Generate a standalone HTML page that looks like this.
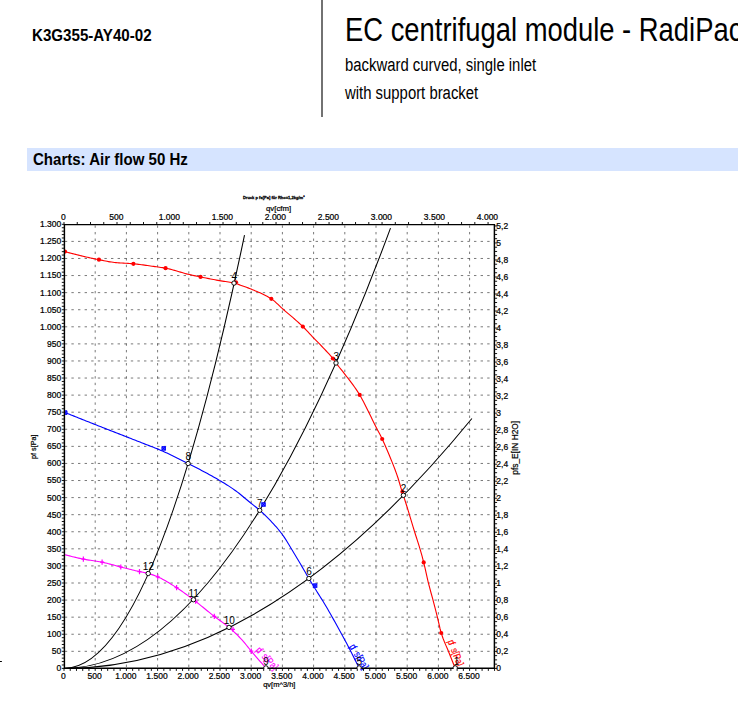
<!DOCTYPE html>
<html lang="en">
<head>
<meta charset="utf-8">
<title>K3G355-AY40-02 – Charts: Air flow 50 Hz</title>
<style>
html,body{margin:0;padding:0;background:#fff;}
body{width:738px;height:705px;position:relative;overflow:hidden;font-family:"Liberation Sans",sans-serif;color:#000;}
.n{position:absolute;white-space:nowrap;transform-origin:0 100%;line-height:1;}
#partno{left:31.5px;top:27.7px;font-size:16.6px;font-weight:bold;transform:scaleX(.911);}
#vline{position:absolute;left:321px;top:0;width:2px;height:117px;background:#727272;}
#title{left:345.1px;top:12.8px;font-size:33px;transform:scaleX(.83);}
#sub1{left:344.6px;top:57.3px;font-size:17.6px;transform:scaleX(.846);}
#sub2{left:344.9px;top:84.6px;font-size:17.6px;transform:scaleX(.846);}
#bar{position:absolute;left:27px;top:148px;width:711px;height:22.7px;background:#d6e4ff;}
#bar span{left:5.5px;top:3.9px;font-size:16.6px;font-weight:bold;transform:scaleX(.906);}
svg{position:absolute;left:0;top:0;}
svg text{font-family:"Liberation Sans",sans-serif;}
.grid line{stroke:#000;stroke-width:.72;stroke-dasharray:2.4 4.2;stroke-opacity:.74;}
.grid line.v{stroke-dasharray:2.4 4.155;}
.sys path{fill:none;stroke:#000;stroke-width:1.05;}
.fan{fill:none;stroke-width:1.12;}
.ax{fill:none;stroke:#000;stroke-width:1.45;}
.tk{fill:none;stroke:#000;stroke-width:.92;}
.pt circle{fill:#fff;stroke:#000;stroke-width:.95;}
.pl text{font-size:10px;text-anchor:middle;fill:#000;}
.lb{font-size:8.5px;fill:#000;stroke:#000;stroke-width:.22px;}
.le text{text-anchor:end;}
.ls text{text-anchor:start;}
.lm text,text.lm{text-anchor:middle;}
.cl{font-size:10.2px;stroke-width:.15px;}
.tt{font-size:4.4px;text-anchor:middle;fill:#000;font-weight:bold;stroke:#000;stroke-width:.28px;}
</style>
</head>
<body>
<div id="partno" class="n">K3G355-AY40-02</div>
<div id="vline"></div>
<div id="title" class="n">EC centrifugal module - RadiPac</div>
<div id="sub1" class="n">backward curved, single inlet</div>
<div id="sub2" class="n">with support bracket</div>
<div id="bar"><span class="n">Charts: Air flow 50 Hz</span></div>
<svg width="738" height="705" viewBox="0 0 738 705" role="img" aria-label="Air flow chart 50 Hz">
<g class="grid"><line class="v" x1="95.2" y1="667" x2="95.2" y2="224.6"/><line class="v" x1="126.4" y1="667" x2="126.4" y2="224.6"/><line class="v" x1="157.6" y1="667" x2="157.6" y2="224.6"/><line class="v" x1="188.8" y1="667" x2="188.8" y2="224.6"/><line class="v" x1="220" y1="667" x2="220" y2="224.6"/><line class="v" x1="251.2" y1="667" x2="251.2" y2="224.6"/><line class="v" x1="282.4" y1="667" x2="282.4" y2="224.6"/><line class="v" x1="313.6" y1="667" x2="313.6" y2="224.6"/><line class="v" x1="344.8" y1="667" x2="344.8" y2="224.6"/><line class="v" x1="376" y1="667" x2="376" y2="224.6"/><line class="v" x1="407.2" y1="667" x2="407.2" y2="224.6"/><line class="v" x1="438.4" y1="667" x2="438.4" y2="224.6"/><line class="v" x1="469.6" y1="667" x2="469.6" y2="224.6"/><line x1="64.8" y1="651.32" x2="494.4" y2="651.32"/><line x1="64.8" y1="634.24" x2="494.4" y2="634.24"/><line x1="64.8" y1="617.16" x2="494.4" y2="617.16"/><line x1="64.8" y1="600.08" x2="494.4" y2="600.08"/><line x1="64.8" y1="583" x2="494.4" y2="583"/><line x1="64.8" y1="565.92" x2="494.4" y2="565.92"/><line x1="64.8" y1="548.84" x2="494.4" y2="548.84"/><line x1="64.8" y1="531.76" x2="494.4" y2="531.76"/><line x1="64.8" y1="514.68" x2="494.4" y2="514.68"/><line x1="64.8" y1="497.6" x2="494.4" y2="497.6"/><line x1="64.8" y1="480.52" x2="494.4" y2="480.52"/><line x1="64.8" y1="463.44" x2="494.4" y2="463.44"/><line x1="64.8" y1="446.36" x2="494.4" y2="446.36"/><line x1="64.8" y1="429.28" x2="494.4" y2="429.28"/><line x1="64.8" y1="412.2" x2="494.4" y2="412.2"/><line x1="64.8" y1="395.12" x2="494.4" y2="395.12"/><line x1="64.8" y1="378.04" x2="494.4" y2="378.04"/><line x1="64.8" y1="360.96" x2="494.4" y2="360.96"/><line x1="64.8" y1="343.88" x2="494.4" y2="343.88"/><line x1="64.8" y1="326.8" x2="494.4" y2="326.8"/><line x1="64.8" y1="309.72" x2="494.4" y2="309.72"/><line x1="64.8" y1="292.64" x2="494.4" y2="292.64"/><line x1="64.8" y1="275.56" x2="494.4" y2="275.56"/><line x1="64.8" y1="258.48" x2="494.4" y2="258.48"/><line x1="64.8" y1="241.4" x2="494.4" y2="241.4"/></g>
<g class="sys"><path d="M64 668.4 Q154.25 668.4 244.5 235.08"/><path d="M64 668.4 Q227.25 668.4 390.5 228.13"/><path d="M64 668.4 Q267.95 668.4 471.9 418.49"/></g>
<clipPath id="pa"><rect x="64.4" y="224" width="430.5" height="445"/></clipPath><g clip-path="url(#pa)">
<path class="fan" stroke="#ff0000" d="M65 251.6L66.5 252.02L68 252.43L69.5 252.84L71 253.24L72.5 253.64L74 254.03L75.5 254.41L77 254.79L78.5 255.16L80 255.53L81.5 255.89L83 256.24L84.5 256.59L86 256.94L87.5 257.28L89 257.61L90.5 257.94L92 258.27L93.5 258.58L95 258.9L96.5 259.21L98 259.51L99.5 259.81L101 260.11L102.5 260.42L104 260.72L105.5 261.02L107 261.31L108.5 261.58L110 261.84L111.5 262.07L113 262.28L114.5 262.46L116 262.61L117.5 262.74L119 262.85L120.5 262.95L122 263.05L123.5 263.14L125 263.22L126.5 263.31L128 263.4L129.5 263.5L131 263.6L132.5 263.72L134 263.86L135.5 264.01L137 264.17L138.5 264.35L140 264.53L141.5 264.73L143 264.93L144.5 265.14L146 265.35L147.5 265.56L149 265.78L150.5 265.99L152 266.2L153.5 266.4L155 266.6L156.5 266.81L158 267.01L159.5 267.22L161 267.44L162.5 267.67L164 267.92L165.5 268.18L167 268.48L168.5 268.8L170 269.16L171.5 269.54L173 269.95L174.5 270.37L176 270.8L177.5 271.24L179 271.69L180.5 272.14L182 272.58L183.5 273.01L185 273.43L186.5 273.84L188 274.22L189.5 274.58L191 274.92L192.5 275.26L194 275.58L195.5 275.9L197 276.22L198.5 276.53L200 276.84L201.5 277.14L203 277.45L204.5 277.75L206 278.05L207.5 278.35L209 278.65L210.5 278.94L212 279.23L213.5 279.52L215 279.8L216.5 280.08L218 280.36L219.5 280.63L221 280.89L222.5 281.13L224 281.36L225.5 281.57L227 281.79L228.5 282.02L230 282.27L231.5 282.53L233 282.83L234.5 283.17L236 283.59L237.5 284.08L239 284.61L240.5 285.16L242 285.7L243.5 286.23L245 286.76L246.5 287.31L248 287.87L249.5 288.45L251 289.06L252.5 289.68L254 290.29L255.5 290.92L257 291.54L258.5 292.18L260 292.84L261.5 293.52L263 294.22L264.5 294.95L266 295.72L267.5 296.54L269 297.39L270.5 298.3L272 299.27L273.5 300.4L275 301.67L276.5 303.04L278 304.46L279.5 305.91L281 307.33L282.5 308.69L284 310L285.5 311.3L287 312.58L288.5 313.86L290 315.13L291.5 316.41L293 317.7L294.5 318.99L296 320.3L297.5 321.63L299 322.98L300.5 324.37L302 325.78L303.5 327.24L305 328.75L306.5 330.33L308 331.93L309.5 333.56L311 335.18L312.5 336.79L314 338.36L315.5 339.91L317 341.44L318.5 342.96L320 344.48L321.5 346.01L323 347.56L324.5 349.14L326 350.75L327.5 352.36L329 353.98L330.5 355.66L332 357.44L333.5 359.38L335 361.57L336.5 363.67L338 365.62L339.5 367.49L341 369.34L342.5 371.19L344 373.09L345.5 375.05L347 377.01L348.5 378.96L350 380.93L351.5 382.91L353 384.94L354.5 387.03L356 389.18L357.5 391.42L359 393.77L360.5 396.25L362 398.94L363.5 401.8L365 404.78L366.5 407.8L368 410.81L369.5 413.79L371 416.84L372.5 419.92L374 422.98L375.5 426L377 428.91L378.5 431.75L380 434.59L381.5 437.55L383 440.7L384.5 444L386 447.41L387.5 450.92L389 454.51L390.5 458.17L392 461.88L393.5 465.64L395 469.52L396.5 473.61L398 478.03L399.5 483L401 488.07L402.5 492.74L404 497.31L405.5 502.01L407 506.78L408.5 511.65L410 516.6L411.5 521.59L413 526.57L414.5 531.48L416 536.23L417.5 540.88L419 545.62L420.5 550.63L422 555.95L423.5 561.61L425 567.89L426.5 574.66L428 581.29L429.5 587.23L431 592.74L432.5 598.2L434 603.89L435.5 609.68L437 615.6L438.5 621.89L440 628.49L441.5 633.95L443 638.3L444.5 642.1L446 645.61L447.5 649.08L449 652.76L450.5 656.53L452 660.29L453.5 664.05L455 667.8"/>
<path class="fan" stroke="#0000ff" d="M65 412.5L66.5 413.1L68 413.71L69.5 414.31L71 414.92L72.5 415.52L74 416.12L75.5 416.72L77 417.32L78.5 417.92L80 418.52L81.5 419.12L83 419.72L84.5 420.32L86 420.91L87.5 421.51L89 422.1L90.5 422.7L92 423.29L93.5 423.89L95 424.48L96.5 425.07L98 425.67L99.5 426.26L101 426.84L102.5 427.43L104 428.02L105.5 428.61L107 429.19L108.5 429.78L110 430.36L111.5 430.95L113 431.53L114.5 432.12L116 432.7L117.5 433.29L119 433.87L120.5 434.46L122 435.04L123.5 435.63L125 436.21L126.5 436.8L128 437.39L129.5 437.97L131 438.56L132.5 439.15L134 439.74L135.5 440.33L137 440.92L138.5 441.51L140 442.09L141.5 442.68L143 443.27L144.5 443.86L146 444.44L147.5 445.03L149 445.61L150.5 446.19L152 446.76L153.5 447.33L155 447.9L156.5 448.49L158 449.11L159.5 449.75L161 450.4L162.5 451.06L164 451.73L165.5 452.42L167 453.11L168.5 453.81L170 454.52L171.5 455.24L173 455.96L174.5 456.69L176 457.43L177.5 458.17L179 458.92L180.5 459.67L182 460.42L183.5 461.18L185 461.93L186.5 462.69L188 463.45L189.5 464.21L191 464.97L192.5 465.73L194 466.5L195.5 467.27L197 468.04L198.5 468.81L200 469.59L201.5 470.38L203 471.17L204.5 471.97L206 472.77L207.5 473.58L209 474.4L210.5 475.23L212 476.06L213.5 476.9L215 477.75L216.5 478.61L218 479.48L219.5 480.36L221 481.25L222.5 482.15L224 483.07L225.5 483.99L227 484.93L228.5 485.89L230 486.86L231.5 487.86L233 488.88L234.5 489.93L236 491L237.5 492.12L239 493.29L240.5 494.51L242 495.75L243.5 497.01L245 498.28L246.5 499.55L248 500.79L249.5 502.01L251 503.2L252.5 504.39L254 505.58L255.5 506.78L257 508L258.5 509.26L260 510.57L261.5 511.91L263 513.28L264.5 514.69L266 516.13L267.5 517.6L269 519.12L270.5 520.67L272 522.26L273.5 523.88L275 525.54L276.5 527.24L278 529.01L279.5 530.83L281 532.74L282.5 534.74L284 536.88L285.5 539.17L287 541.57L288.5 544.05L290 546.55L291.5 549.05L293 551.51L294.5 553.99L296 556.48L297.5 559L299 561.53L300.5 564.08L302 566.63L303.5 569.2L305 571.82L306.5 574.45L308 577.05L309.5 579.59L311 582.07L312.5 584.51L314 586.93L315.5 589.32L317 591.7L318.5 594.08L320 596.47L321.5 598.87L323 601.3L324.5 603.77L326 606.28L327.5 608.84L329 611.44L330.5 614.07L332 616.72L333.5 619.39L335 622.08L336.5 624.78L338 627.49L339.5 630.21L341 632.95L342.5 635.7L344 638.48L345.5 641.28L347 644.1L348.5 646.96L350 649.84L351.5 652.75L353 655.69L354.5 658.65L356 661.64L357.5 664.66L359 667.7L359.1 667.9"/>
<path class="fan" stroke="#ff00ff" d="M65 554.7L66.5 555.11L68 555.51L69.5 555.91L71 556.3L72.5 556.67L74 557.04L75.5 557.4L77 557.75L78.5 558.09L80 558.41L81.5 558.73L83 559.03L84.5 559.32L86 559.59L87.5 559.84L89 560.08L90.5 560.31L92 560.53L93.5 560.75L95 560.98L96.5 561.21L98 561.45L99.5 561.71L101 561.99L102.5 562.28L104 562.6L105.5 562.95L107 563.31L108.5 563.7L110 564.09L111.5 564.5L113 564.91L114.5 565.32L116 565.73L117.5 566.14L119 566.54L120.5 566.92L122 567.3L123.5 567.68L125 568.06L126.5 568.44L128 568.82L129.5 569.2L131 569.57L132.5 569.94L134 570.31L135.5 570.67L137 571.03L138.5 571.37L140 571.71L141.5 572.02L143 572.31L144.5 572.6L146 572.91L147.5 573.26L149 573.66L150.5 574.1L152 574.6L153.5 575.14L155 575.71L156.5 576.32L158 576.96L159.5 577.64L161 578.37L162.5 579.14L164 579.96L165.5 580.8L167 581.68L168.5 582.59L170 583.51L171.5 584.45L173 585.4L174.5 586.36L176 587.32L177.5 588.28L179 589.27L180.5 590.28L182 591.31L183.5 592.37L185 593.44L186.5 594.53L188 595.63L189.5 596.74L191 597.86L192.5 598.99L194 600.12L195.5 601.27L197 602.44L198.5 603.63L200 604.84L201.5 606.06L203 607.28L204.5 608.51L206 609.74L207.5 610.97L209 612.19L210.5 613.4L212 614.6L213.5 615.78L215 616.94L216.5 618.06L218 619.15L219.5 620.23L221 621.3L222.5 622.38L224 623.48L225.5 624.6L227 625.77L228.5 626.98L230 628.25L231.5 629.57L233 630.92L234.5 632.31L236 633.75L237.5 635.22L239 636.74L240.5 638.3L242 639.9L243.5 641.59L245 643.38L246.5 645.24L248 647.14L249.5 649.01L251 650.84L252.5 652.61L254 654.37L255.5 656.12L257 657.86L258.5 659.58L260 661.3L261.5 662.99L263 664.68L264.5 666.35L265.9 667.9"/>
<g fill="#ff0000"><circle cx="65" cy="251.6" r="2.1"/><circle cx="98.95" cy="259.7" r="2.1"/><circle cx="133.4" cy="263.8" r="2.1"/><circle cx="165.6" cy="268.2" r="2.1"/><circle cx="200.55" cy="276.95" r="2.1"/><circle cx="236" cy="282.3" r="2.1"/><circle cx="271.3" cy="298.8" r="2.1"/><circle cx="302.8" cy="326.55" r="2.1"/><circle cx="332.85" cy="358.5" r="2.1"/><circle cx="359.7" cy="394.9" r="2.1"/><circle cx="382.2" cy="439" r="2.1"/><circle cx="402.4" cy="491.8" r="2.1"/><circle cx="423.7" cy="562.4" r="2.1"/><circle cx="441.2" cy="633" r="2.1"/></g>
<g fill="#4848ff" stroke="#0000ff" stroke-width=".9"><path d="M63.4 410.8h3.6v3.6h-3.6zl3.6 3.6m0 -3.6l-3.6 3.6"/><path d="M161.9 446.6h3.6v3.6h-3.6zl3.6 3.6m0 -3.6l-3.6 3.6"/><path d="M261.7 502.7h3.6v3.6h-3.6zl3.6 3.6m0 -3.6l-3.6 3.6"/><path d="M313.3 583.8h3.6v3.6h-3.6zl3.6 3.6m0 -3.6l-3.6 3.6"/></g>
<path stroke="#ff00ff" stroke-width="1.2" fill="none" d="M83.35 556.5v5.2M81.35 559.1h4M102.1 559.6v5.2M100.1 562.2h4M120.8 564.4v5.2M118.8 567h4M139.5 569v5.2M137.5 571.6h4M157.75 574.25v5.2M155.75 576.85h4M176.6 585.1v5.2M174.6 587.7h4M195.6 598.6v5.2M193.6 601.2h4M214.3 613.8v5.2M212.3 616.4h4M233 626.7v5.2M231 629.3h4M251.3 648.6v5.2M249.3 651.2h4"/>
</g>
<text class="cl" fill="#ff0000" stroke="#ff0000" transform="translate(447.6 641.2) rotate(69) scale(.8 1)">p<tspan dx="-2.4">f</tspan><tspan dx="2.2"> s[Pa]</tspan></text>
<text class="cl" fill="#0000ff" stroke="#0000ff" transform="translate(349 646.6) rotate(59) scale(.8 1)">p<tspan dx="-2.4">f</tspan><tspan dx="2.2"> s[Pa]</tspan></text>
<text class="cl" fill="#ff00ff" stroke="#ff00ff" transform="translate(255.2 650.6) rotate(47) scale(.8 1)">p<tspan dx="-2.4">f</tspan><tspan dx="2.2"> s[Pa]</tspan></text>
<path class="ax" d="M64.4 224.6H494.4V668.3H64.4Z"/>
<path class="tk" d="M64.4 668.4h-2.6M64.4 664.98h-2.6M64.4 661.57h-2.6M64.4 658.15h-2.6M64.4 654.74h-2.6M64.4 651.32h-2.6M64.4 647.9h-2.6M64.4 644.49h-2.6M64.4 641.07h-2.6M64.4 637.66h-2.6M64.4 634.24h-2.6M64.4 630.82h-2.6M64.4 627.41h-2.6M64.4 623.99h-2.6M64.4 620.58h-2.6M64.4 617.16h-2.6M64.4 613.74h-2.6M64.4 610.33h-2.6M64.4 606.91h-2.6M64.4 603.5h-2.6M64.4 600.08h-2.6M64.4 596.66h-2.6M64.4 593.25h-2.6M64.4 589.83h-2.6M64.4 586.42h-2.6M64.4 583h-2.6M64.4 579.58h-2.6M64.4 576.17h-2.6M64.4 572.75h-2.6M64.4 569.34h-2.6M64.4 565.92h-2.6M64.4 562.5h-2.6M64.4 559.09h-2.6M64.4 555.67h-2.6M64.4 552.26h-2.6M64.4 548.84h-2.6M64.4 545.42h-2.6M64.4 542.01h-2.6M64.4 538.59h-2.6M64.4 535.18h-2.6M64.4 531.76h-2.6M64.4 528.34h-2.6M64.4 524.93h-2.6M64.4 521.51h-2.6M64.4 518.1h-2.6M64.4 514.68h-2.6M64.4 511.26h-2.6M64.4 507.85h-2.6M64.4 504.43h-2.6M64.4 501.02h-2.6M64.4 497.6h-2.6M64.4 494.18h-2.6M64.4 490.77h-2.6M64.4 487.35h-2.6M64.4 483.94h-2.6M64.4 480.52h-2.6M64.4 477.1h-2.6M64.4 473.69h-2.6M64.4 470.27h-2.6M64.4 466.86h-2.6M64.4 463.44h-2.6M64.4 460.02h-2.6M64.4 456.61h-2.6M64.4 453.19h-2.6M64.4 449.78h-2.6M64.4 446.36h-2.6M64.4 442.94h-2.6M64.4 439.53h-2.6M64.4 436.11h-2.6M64.4 432.7h-2.6M64.4 429.28h-2.6M64.4 425.86h-2.6M64.4 422.45h-2.6M64.4 419.03h-2.6M64.4 415.62h-2.6M64.4 412.2h-2.6M64.4 408.78h-2.6M64.4 405.37h-2.6M64.4 401.95h-2.6M64.4 398.54h-2.6M64.4 395.12h-2.6M64.4 391.7h-2.6M64.4 388.29h-2.6M64.4 384.87h-2.6M64.4 381.46h-2.6M64.4 378.04h-2.6M64.4 374.62h-2.6M64.4 371.21h-2.6M64.4 367.79h-2.6M64.4 364.38h-2.6M64.4 360.96h-2.6M64.4 357.54h-2.6M64.4 354.13h-2.6M64.4 350.71h-2.6M64.4 347.3h-2.6M64.4 343.88h-2.6M64.4 340.46h-2.6M64.4 337.05h-2.6M64.4 333.63h-2.6M64.4 330.22h-2.6M64.4 326.8h-2.6M64.4 323.38h-2.6M64.4 319.97h-2.6M64.4 316.55h-2.6M64.4 313.14h-2.6M64.4 309.72h-2.6M64.4 306.3h-2.6M64.4 302.89h-2.6M64.4 299.47h-2.6M64.4 296.06h-2.6M64.4 292.64h-2.6M64.4 289.22h-2.6M64.4 285.81h-2.6M64.4 282.39h-2.6M64.4 278.98h-2.6M64.4 275.56h-2.6M64.4 272.14h-2.6M64.4 268.73h-2.6M64.4 265.31h-2.6M64.4 261.9h-2.6M64.4 258.48h-2.6M64.4 255.06h-2.6M64.4 251.65h-2.6M64.4 248.23h-2.6M64.4 244.82h-2.6M64.4 241.4h-2.6M64.4 237.98h-2.6M64.4 234.57h-2.6M64.4 231.15h-2.6M64.4 227.74h-2.6M64.4 224.32h-2.6M494.4 668.4h2.7M494.4 664.15h2.7M494.4 659.89h2.7M494.4 655.64h2.7M494.4 651.38h2.7M494.4 647.13h2.7M494.4 642.87h2.7M494.4 638.62h2.7M494.4 634.36h2.7M494.4 630.11h2.7M494.4 625.86h2.7M494.4 621.6h2.7M494.4 617.35h2.7M494.4 613.09h2.7M494.4 608.84h2.7M494.4 604.58h2.7M494.4 600.33h2.7M494.4 596.07h2.7M494.4 591.82h2.7M494.4 587.57h2.7M494.4 583.31h2.7M494.4 579.06h2.7M494.4 574.8h2.7M494.4 570.55h2.7M494.4 566.29h2.7M494.4 562.04h2.7M494.4 557.78h2.7M494.4 553.53h2.7M494.4 549.28h2.7M494.4 545.02h2.7M494.4 540.77h2.7M494.4 536.51h2.7M494.4 532.26h2.7M494.4 528h2.7M494.4 523.75h2.7M494.4 519.49h2.7M494.4 515.24h2.7M494.4 510.99h2.7M494.4 506.73h2.7M494.4 502.48h2.7M494.4 498.22h2.7M494.4 493.97h2.7M494.4 489.71h2.7M494.4 485.46h2.7M494.4 481.2h2.7M494.4 476.95h2.7M494.4 472.7h2.7M494.4 468.44h2.7M494.4 464.19h2.7M494.4 459.93h2.7M494.4 455.68h2.7M494.4 451.42h2.7M494.4 447.17h2.7M494.4 442.91h2.7M494.4 438.66h2.7M494.4 434.41h2.7M494.4 430.15h2.7M494.4 425.9h2.7M494.4 421.64h2.7M494.4 417.39h2.7M494.4 413.13h2.7M494.4 408.88h2.7M494.4 404.62h2.7M494.4 400.37h2.7M494.4 396.12h2.7M494.4 391.86h2.7M494.4 387.61h2.7M494.4 383.35h2.7M494.4 379.1h2.7M494.4 374.84h2.7M494.4 370.59h2.7M494.4 366.33h2.7M494.4 362.08h2.7M494.4 357.83h2.7M494.4 353.57h2.7M494.4 349.32h2.7M494.4 345.06h2.7M494.4 340.81h2.7M494.4 336.55h2.7M494.4 332.3h2.7M494.4 328.04h2.7M494.4 323.79h2.7M494.4 319.54h2.7M494.4 315.28h2.7M494.4 311.03h2.7M494.4 306.77h2.7M494.4 302.52h2.7M494.4 298.26h2.7M494.4 294.01h2.7M494.4 289.75h2.7M494.4 285.5h2.7M494.4 281.25h2.7M494.4 276.99h2.7M494.4 272.74h2.7M494.4 268.48h2.7M494.4 264.23h2.7M494.4 259.97h2.7M494.4 255.72h2.7M494.4 251.46h2.7M494.4 247.21h2.7M494.4 242.96h2.7M494.4 238.7h2.7M494.4 234.45h2.7M494.4 230.19h2.7M494.4 225.94h2.7M64 668.3v2.6M70.24 668.3v2.6M76.48 668.3v2.6M82.72 668.3v2.6M88.96 668.3v2.6M95.2 668.3v2.6M101.44 668.3v2.6M107.68 668.3v2.6M113.92 668.3v2.6M120.16 668.3v2.6M126.4 668.3v2.6M132.64 668.3v2.6M138.88 668.3v2.6M145.12 668.3v2.6M151.36 668.3v2.6M157.6 668.3v2.6M163.84 668.3v2.6M170.08 668.3v2.6M176.32 668.3v2.6M182.56 668.3v2.6M188.8 668.3v2.6M195.04 668.3v2.6M201.28 668.3v2.6M207.52 668.3v2.6M213.76 668.3v2.6M220 668.3v2.6M226.24 668.3v2.6M232.48 668.3v2.6M238.72 668.3v2.6M244.96 668.3v2.6M251.2 668.3v2.6M257.44 668.3v2.6M263.68 668.3v2.6M269.92 668.3v2.6M276.16 668.3v2.6M282.4 668.3v2.6M288.64 668.3v2.6M294.88 668.3v2.6M301.12 668.3v2.6M307.36 668.3v2.6M313.6 668.3v2.6M319.84 668.3v2.6M326.08 668.3v2.6M332.32 668.3v2.6M338.56 668.3v2.6M344.8 668.3v2.6M351.04 668.3v2.6M357.28 668.3v2.6M363.52 668.3v2.6M369.76 668.3v2.6M376 668.3v2.6M382.24 668.3v2.6M388.48 668.3v2.6M394.72 668.3v2.6M400.96 668.3v2.6M407.2 668.3v2.6M413.44 668.3v2.6M419.68 668.3v2.6M425.92 668.3v2.6M432.16 668.3v2.6M438.4 668.3v2.6M444.64 668.3v2.6M450.88 668.3v2.6M457.12 668.3v2.6M463.36 668.3v2.6M469.6 668.3v2.6M475.84 668.3v2.6M482.08 668.3v2.6M488.32 668.3v2.6M494.56 668.3v2.6M64 224.6v-2.6M77.25 224.6v-2.6M90.5 224.6v-2.6M103.76 224.6v-2.6M117.01 224.6v-2.6M130.26 224.6v-2.6M143.51 224.6v-2.6M156.77 224.6v-2.6M170.02 224.6v-2.6M183.27 224.6v-2.6M196.52 224.6v-2.6M209.78 224.6v-2.6M223.03 224.6v-2.6M236.28 224.6v-2.6M249.53 224.6v-2.6M262.78 224.6v-2.6M276.04 224.6v-2.6M289.29 224.6v-2.6M302.54 224.6v-2.6M315.79 224.6v-2.6M329.05 224.6v-2.6M342.3 224.6v-2.6M355.55 224.6v-2.6M368.8 224.6v-2.6M382.05 224.6v-2.6M395.31 224.6v-2.6M408.56 224.6v-2.6M421.81 224.6v-2.6M435.06 224.6v-2.6M448.32 224.6v-2.6M461.57 224.6v-2.6M474.82 224.6v-2.6M488.07 224.6v-2.6"/>
<clipPath id="pc"><rect x="0" y="0" width="738" height="669"/></clipPath>
<g class="pt" clip-path="url(#pc)"><circle cx="455.2" cy="667.9" r="2.2"/><circle cx="403.4" cy="495.3" r="2.2"/><circle cx="336" cy="363" r="2.2"/><circle cx="234" cy="283.1" r="2.2"/><circle cx="359.1" cy="667.9" r="2.2"/><circle cx="308.85" cy="578.5" r="2.2"/><circle cx="259.7" cy="510.3" r="2.2"/><circle cx="188.1" cy="463.5" r="2.2"/><circle cx="265.9" cy="667.9" r="2.2"/><circle cx="229" cy="627.4" r="2.2"/><circle cx="193.45" cy="599.7" r="2.2"/><circle cx="148.2" cy="573.5" r="2.2"/></g>
<g class="pl"><text x="456.6" y="665.3">1</text><text x="403.6" y="492.1">2</text><text x="336.2" y="359.8">3</text><text x="234.2" y="279.9">4</text><text x="359.3" y="665.3">5</text><text x="309.05" y="575.3">6</text><text x="259.9" y="507.1">7</text><text x="188.3" y="460.3">8</text><text x="266.1" y="665.3">9</text><text x="229.2" y="624.2">10</text><text x="193.65" y="596.5">11</text><text x="148.4" y="570.3">12</text></g>
<g class="lb le"><text x="61.3" y="671.3">0</text><text x="61.3" y="654.22">50</text><text x="61.3" y="637.14">100</text><text x="61.3" y="620.06">150</text><text x="61.3" y="602.98">200</text><text x="61.3" y="585.9">250</text><text x="61.3" y="568.82">300</text><text x="61.3" y="551.74">350</text><text x="61.3" y="534.66">400</text><text x="61.3" y="517.58">450</text><text x="61.3" y="500.5">500</text><text x="61.3" y="483.42">550</text><text x="61.3" y="466.34">600</text><text x="61.3" y="449.26">650</text><text x="61.3" y="432.18">700</text><text x="61.3" y="415.1">750</text><text x="61.3" y="398.02">800</text><text x="61.3" y="380.94">850</text><text x="61.3" y="363.86">900</text><text x="61.3" y="346.78">950</text><text x="61.3" y="329.7">1.000</text><text x="61.3" y="312.62">1.050</text><text x="61.3" y="295.54">1.100</text><text x="61.3" y="278.46">1.150</text><text x="61.3" y="261.38">1.200</text><text x="61.3" y="244.3">1.250</text><text x="61.3" y="227.22">1.300</text></g>
<g class="lb ls"><text x="496.3" y="671.35">0</text><text x="496.3" y="654.33">0,2</text><text x="496.3" y="637.31">0,4</text><text x="496.3" y="620.3">0,6</text><text x="496.3" y="603.28">0,8</text><text x="496.3" y="586.26">1</text><text x="496.3" y="569.24">1,2</text><text x="496.3" y="552.23">1,4</text><text x="496.3" y="535.21">1,6</text><text x="496.3" y="518.19">1,8</text><text x="496.3" y="501.17">2</text><text x="496.3" y="484.15">2,2</text><text x="496.3" y="467.14">2,4</text><text x="496.3" y="450.12">2,6</text><text x="496.3" y="433.1">2,8</text><text x="496.3" y="416.08">3</text><text x="496.3" y="399.07">3,2</text><text x="496.3" y="382.05">3,4</text><text x="496.3" y="365.03">3,6</text><text x="496.3" y="348.01">3,8</text><text x="496.3" y="330.99">4</text><text x="496.3" y="313.98">4,2</text><text x="496.3" y="296.96">4,4</text><text x="496.3" y="279.94">4,6</text><text x="496.3" y="262.92">4,8</text><text x="496.3" y="245.91">5</text><text x="496.3" y="228.89">5,2</text></g>
<g class="lb lm"><text x="63.4" y="679.1">0</text><text x="94.6" y="679.1">500</text><text x="125.8" y="679.1">1.000</text><text x="157" y="679.1">1.500</text><text x="188.2" y="679.1">2.000</text><text x="219.4" y="679.1">2.500</text><text x="250.6" y="679.1">3.000</text><text x="281.8" y="679.1">3.500</text><text x="313" y="679.1">4.000</text><text x="344.2" y="679.1">4.500</text><text x="375.4" y="679.1">5.000</text><text x="406.6" y="679.1">5.500</text><text x="437.8" y="679.1">6.000</text><text x="469" y="679.1">6.500</text></g>
<g class="lb lm"><text x="63.4" y="220.1">0</text><text x="116.41" y="220.1">500</text><text x="169.42" y="220.1">1.000</text><text x="222.43" y="220.1">1.500</text><text x="275.44" y="220.1">2.000</text><text x="328.45" y="220.1">2.500</text><text x="381.45" y="220.1">3.000</text><text x="434.46" y="220.1">3.500</text><text x="487.47" y="220.1">4.000</text></g>
<text class="lb lm" x="278.6" y="211.2" style="font-size:7.8px">qv[cfm]</text>
<text class="lb lm" x="279.3" y="687.3" style="font-size:7.5px">qv[m^3/h]</text>
<text class="lb lm" transform="translate(36.2 446.7) rotate(-90)" style="font-size:7.2px">pf s[Pa]</text>
<text class="lb lm" transform="translate(518.4 447.8) rotate(-90)" style="font-size:8.35px">pfs_E[IN H2O]</text>
<text class="tt" x="273.7" y="199.3" textLength="61.6" lengthAdjust="spacingAndGlyphs">Druck p fs[Pa] für Rho=1,2kg/m³</text>
<path d="M0 661.5h1.9" stroke="#000" stroke-width="1"/>
</svg>
</body>
</html>
